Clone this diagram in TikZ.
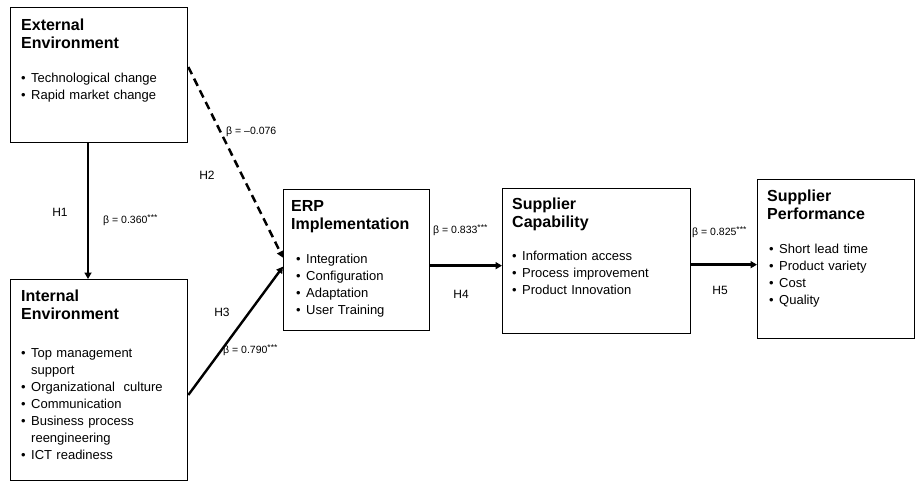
\documentclass[tikz,border=0pt]{standalone}
\usepackage{fontspec}
\setmainfont{Liberation Sans}
\usetikzlibrary{arrows.meta,calc}
\newcommand{\ttlx}[1]{{\fontsize{16}{18}\selectfont\bfseries #1\par}}
\newcommand{\itmx}[1]{\par\hangindent=10pt\hangafter=1\noindent\makebox[10pt][l]{\textbullet}#1}
\newcommand{\strs}{\raisebox{2.5pt}{\fontsize{8.5}{8.5}\selectfont ***}}
\begin{document}
\begin{tikzpicture}[x=1pt,y=-1pt,
  box/.style={draw,line width=1.3pt,anchor=north west,inner sep=0pt},
  txt/.style={anchor=north west,inner sep=0pt,align=left,font=\fontsize{13}{17}\selectfont},
  arr/.style={-{Triangle[length=6.5pt,width=7pt]},line width=2.7pt},
  blab/.style={font=\fontsize{10.5}{12}\selectfont,inner sep=0pt,anchor=west},
  hlab/.style={font=\fontsize{12}{14}\selectfont,inner sep=0pt}]
\fill[white] (0,0) rectangle (915,481);
\useasboundingbox (0,0) rectangle (915,481);
% boxes
\node[box,minimum width=177pt,minimum height=135pt] (ext) at (10,7) {};
\node[box,minimum width=177pt,minimum height=201pt] (int) at (10,279) {};
\node[box,minimum width=146pt,minimum height=141pt] (erp) at (283,189) {};
\node[box,minimum width=188pt,minimum height=145pt] (sc) at (502,188) {};
\node[box,minimum width=156.5pt,minimum height=159pt] (sp) at (757,179) {};
% box texts
\node[txt,text width=160pt] (exttxt) at (21,18.5) {\ttlx{External\\Environment}\vspace{17pt}\itmx{Technological change}\itmx{Rapid market change}\par};
\node[txt,text width=160pt] (inttxt) at (21,289.5) {\ttlx{Internal\\Environment}\vspace{21pt}\itmx{Top management\newline support}\itmx{Organizational\ \ culture}\itmx{Communication}\itmx{Business process\newline reengineering}\itmx{ICT readiness}\par};
\node[txt,text width=138pt] (erptxt) at (291,200.2) {\ttlx{ERP\\Implementation}\vspace{17pt}\leftskip=5pt\itmx{Integration}\itmx{Configuration}\itmx{Adaptation}\itmx{User Training}\par};
\node[txt,text width=175pt] (sctxt) at (512,197.5) {\ttlx{Supplier\\Capability}\vspace{16pt}\itmx{Information access}\itmx{Process improvement}\itmx{Product Innovation}\par};
\node[txt,text width=145pt] (sptxt) at (767,189.5) {\ttlx{Supplier\\Performance}\vspace{17pt}\leftskip=2pt\itmx{Short lead time}\itmx{Product variety}\itmx{Cost}\itmx{Quality}\par};
% connectors
\coordinate (h1x) at (88,0);
\draw[arr] (ext.south -| h1x) -- (int.north -| h1x);
\draw[arr,line width=2.5pt,dash pattern=on 8pt off 5pt] ($(ext.north east)+(0,60)$) -- ($(erp.west)+(0,-2.5)$);
\draw[arr,line width=2.4pt] ($(int.north east)+(0,116)$) -- ($(erp.west)+(0,6.5)$);
\coordinate (h4a) at ($(erp.east)+(0,5.5)$);
\draw[arr] (h4a) -- (h4a -| sc.west);
\coordinate (h5a) at ($(sc.east)+(0,3.5)$);
\draw[arr] (h5a) -- (h5a -| sp.west);
% labels
\node[hlab] (h1) at (60,212) {H1};
\node[hlab] (h2) at (207,175) {H2};
\node[hlab] (h3) at (222,312) {H3};
\node[hlab] (h4) at (461,294) {H4};
\node[hlab] (h5) at (720,290) {H5};
\node[blab] (b1) at (103,220) {β = 0.360\strs};
\node[blab] (b2) at (226,132) {β = –0.076};
\node[blab] (b3) at (223,350) {β = 0.790\strs};
\node[blab] (b4) at (433,230) {β = 0.833\strs};
\node[blab] (b5) at (692,232) {β = 0.825\strs};
\end{tikzpicture}
\end{document}
